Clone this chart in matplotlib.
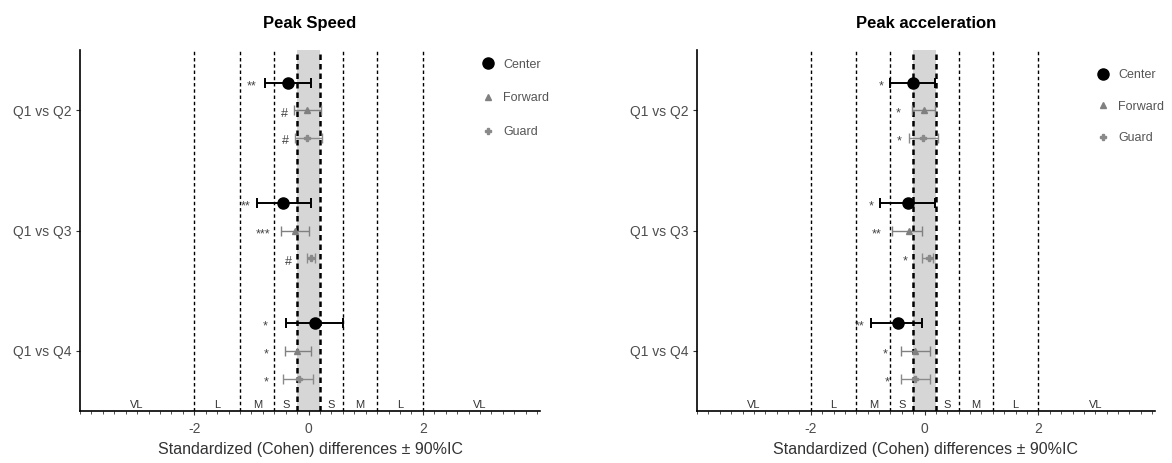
import matplotlib.pyplot as plt
import numpy as np

plt.rcParams['font.family'] = ['Liberation Sans', 'DejaVu Sans']
plt.rcParams['axes.unicode_minus'] = False

comparisons = ["Q1 vs Q2", "Q1 vs Q3", "Q1 vs Q4"]
groups = ["Center", "Forward", "Guard"]

# magnitude thresholds and the labels between them
thresholds = [-2, -1.2, -0.6, -0.2, 0.2, 0.6, 1.2, 2]
zone_names = ["VL", "L", "M", "S", "S", "M", "L", "VL"]
zone_x = [-3, -1.6, -0.9, -0.4, 0.4, 0.9, 1.6, 3]

# Peak Speed: mean, lower, upper (one value per comparison)
speed_mean = {"Center": [-0.36, -0.45, 0.11],
              "Forward": [-0.02, -0.23, -0.20],
              "Guard": [-0.02, 0.04, -0.17]}
speed_low = {"Center": [-0.76, -0.90, -0.39],
             "Forward": [-0.26, -0.49, -0.42],
             "Guard": [-0.24, -0.03, -0.45]}
speed_high = {"Center": [0.05, 0.04, 0.61],
              "Forward": [0.21, 0.01, 0.05],
              "Guard": [0.24, 0.12, 0.07]}
speed_sig = {"Center": ["**", "**", "*"],
             "Forward": ["#", "***", "*"],
             "Guard": ["#", "#", "*"]}
speed_sig_x = {"Center": [-0.99, -1.10, -0.76],
               "Forward": [-0.43, -0.79, -0.75],
               "Guard": [-0.41, -0.35, -0.75]}

# Peak acceleration
acc_mean = {"Center": [-0.20, -0.30, -0.47],
            "Forward": [-0.01, -0.28, -0.17],
            "Guard": [-0.02, 0.07, -0.17]}
acc_low = {"Center": [-0.60, -0.78, -0.94],
           "Forward": [-0.22, -0.58, -0.41],
           "Guard": [-0.27, -0.04, -0.41]}
acc_high = {"Center": [0.19, 0.19, -0.04],
            "Forward": [0.18, -0.04, 0.09],
            "Guard": [0.24, 0.15, 0.09]}
acc_sig = {"Center": ["*", "*", "**"],
           "Forward": ["*", "**", "*"],
           "Guard": ["*", "*", "*"]}
acc_sig_x = {"Center": [-0.76, -0.94, -1.15],
             "Forward": [-0.46, -0.84, -0.70],
             "Guard": [-0.45, -0.34, -0.65]}

styles = {"Center": dict(marker="o", ms=8, color="black", lw=1.4),
          "Forward": dict(marker="^", ms=5, color="#808080", lw=1.0),
          "Guard": dict(marker="P", ms=4.5, color="#8a8a8a", lw=1.0)}
offsets = {"Center": -0.23, "Forward": 0.0, "Guard": 0.23}


def draw_panel(ax, title, mean, low, high, sig, sig_x, legend_y, spacing):
    ax.axvspan(-0.2, 0.2, color="#d6d6d6", zorder=0, lw=0)
    for t in thresholds:
        if abs(t) == 0.2:
            ax.axvline(t, color="black", lw=1.8, ls=(0, (2.2, 1.6)), zorder=1)
        else:
            ax.axvline(t, color="black", lw=1.0, ls=(0, (2.5, 2)), zorder=1)

    ypos = np.arange(1, len(comparisons) + 1)
    for g in groups:
        st = styles[g]
        y = ypos + offsets[g]
        m = np.array(mean[g])
        err = [m - np.array(low[g]), np.array(high[g]) - m]
        ax.errorbar(m, y, xerr=err, fmt="none", ecolor=st["color"],
                    elinewidth=st["lw"], capsize=3.5, capthick=st["lw"], zorder=3)
        ax.plot(m, y, ls="none", marker=st["marker"], ms=st["ms"],
                color=st["color"], zorder=4, label=g)
        for xi, yi, s in zip(sig_x[g], y, sig[g]):
            ax.text(xi, yi + 0.03, s, ha="center", va="center", fontsize=9,
                    color="#444444", zorder=5)

    for x, name in zip(zone_x, zone_names):
        ax.text(x, 3.49, name, ha="center", va="bottom", fontsize=8,
                color="#333333", zorder=5)

    ax.set_xlim(-4.0, 4.05)
    ax.set_ylim(3.5, 0.5)
    ax.set_yticks(ypos)
    ax.set_yticklabels(comparisons)
    ax.set_xticks([-2, 0, 2])
    ax.set_xticks(np.arange(-4, 4.01, 0.2), minor=True)
    ax.tick_params(axis="both", which="major", labelsize=10, labelcolor="#4d4d4d",
                   length=3, width=0.8, color="#333333", pad=3)
    ax.tick_params(axis="x", which="major", pad=5)
    ax.tick_params(axis="x", which="minor", length=2.5, width=0.6, color="#333333")
    for side in ["top", "right"]:
        ax.spines[side].set_visible(False)
    for side in ["left", "bottom"]:
        ax.spines[side].set_linewidth(1.2)
    ax.set_title(title, fontsize=12, fontweight="bold", pad=16)
    ax.set_xlabel("Standardized (Cohen) differences \u00b1 90%IC", fontsize=11.5,
                  color="#333333", labelpad=4)
    leg = ax.legend(loc="upper left", bbox_to_anchor=(0.86, legend_y), frameon=False,
                    fontsize=9, labelspacing=spacing, handletextpad=0.6,
                    handlelength=1.2, borderaxespad=0)
    for txt in leg.get_texts():
        txt.set_color("#555555")


fig = plt.figure(figsize=(11.72, 4.63), dpi=100)
ax1 = fig.add_axes([0.0683, 0.112, 0.3925, 0.78])
ax2 = fig.add_axes([0.5947, 0.112, 0.3908, 0.78])

draw_panel(ax1, "Peak Speed", speed_mean, speed_low, speed_high,
           speed_sig, speed_sig_x, 0.99, 1.75)
draw_panel(ax2, "Peak acceleration", acc_mean, acc_low, acc_high,
           acc_sig, acc_sig_x, 0.96, 1.55)

fig.savefig("out.png", dpi=100)
